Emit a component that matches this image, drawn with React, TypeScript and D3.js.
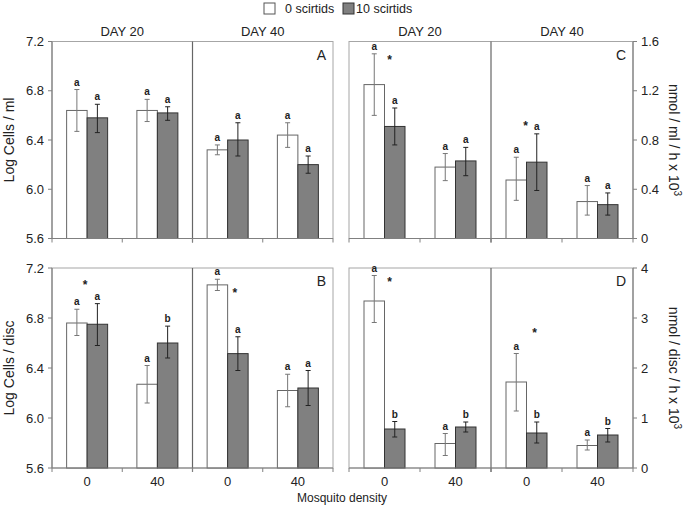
import { useRef, useEffect } from 'react';
import * as d3 from 'd3';

// categories
const days = ['DAY 20', 'DAY 40'];
const densities = ['0', '40'];
const seriesNames = ['0 scirtids', '10 scirtids'];
// order of groups in every array: D20-0, D20-40, D40-0, D40-40

// Panel A: Log Cells / ml
const aWhite = [6.64, 6.64, 6.32, 6.44];
const aWhiteLo = [6.47, 6.55, 6.28, 6.34];
const aWhiteHi = [6.81, 6.73, 6.36, 6.54];
const aGrey = [6.58, 6.62, 6.40, 6.20];
const aGreyLo = [6.46, 6.56, 6.27, 6.13];
const aGreyHi = [6.69, 6.67, 6.54, 6.27];
const aWhiteLetters = ['a', 'a', 'a', 'a'];
const aGreyLetters = ['a', 'a', 'a', 'a'];

// Panel B: Log Cells / disc
const bWhite = [6.76, 6.27, 7.065, 6.22];
const bWhiteLo = [6.66, 6.12, 7.02, 6.09];
const bWhiteHi = [6.87, 6.42, 7.11, 6.35];
const bGrey = [6.75, 6.60, 6.515, 6.24];
const bGreyLo = [6.58, 6.48, 6.38, 6.10];
const bGreyHi = [6.915, 6.735, 6.65, 6.38];
const bWhiteLetters = ['a', 'a', 'a', 'a'];
const bGreyLetters = ['a', 'b', 'a', 'a'];

// Panel C: nmol / ml / h x 10^3
const cWhite = [1.25, 0.58, 0.475, 0.30];
const cWhiteLo = [1.00, 0.47, 0.31, 0.19];
const cWhiteHi = [1.50, 0.69, 0.66, 0.43];
const cGrey = [0.91, 0.63, 0.62, 0.275];
const cGreyLo = [0.76, 0.51, 0.39, 0.19];
const cGreyHi = [1.06, 0.74, 0.85, 0.37];
const cWhiteLetters = ['a', 'a', 'a', 'a'];
const cGreyLetters = ['a', 'a', 'a', 'a'];

// Panel D: nmol / disc / h x 10^3
const dWhite = [3.34, 0.49, 1.72, 0.45];
const dWhiteLo = [2.91, 0.25, 1.14, 0.36];
const dWhiteHi = [3.85, 0.69, 2.29, 0.56];
const dGrey = [0.78, 0.82, 0.70, 0.66];
const dGreyLo = [0.62, 0.72, 0.50, 0.52];
const dGreyHi = [0.93, 0.92, 0.92, 0.79];
const dWhiteLetters = ['a', 'a', 'a', 'a'];
const dGreyLetters = ['b', 'b', 'b', 'b'];

// significance stars: group index, value, horizontal offset in bar widths
const bStars = [{ g: 0, v: 7.075, off: -0.1 }, { g: 2, v: 7.01, off: 0.35 }];
const cStars = [{ g: 0, v: 1.455, off: 0.25 }, { g: 2, v: 0.92, off: -0.05 }];
const dStars = [{ g: 0, v: 3.75, off: 0.25 }, { g: 2, v: 2.73, off: 0.4 }];

const logTicks = [5.6, 6.0, 6.4, 6.8, 7.2];
const cTicks = [0, 0.4, 0.8, 1.2, 1.6];
const dTicks = [0, 1, 2, 3, 4];

const FONT = '"Liberation Sans", Arial, sans-serif';

export default function App() {
  const svgRef = useRef<SVGSVGElement>(null);

  useEffect(() => {
    const svg = d3.select(svgRef.current);
    svg.selectAll('*').remove();
    svg.append('rect').attr('width', 685).attr('height', 506).attr('fill', '#fff');

    const groups = days.flatMap(d => densities.map(n => `${d}|${n}`));

    const panel = (opts: {
      x0: number; x1: number; y0: number; y1: number;
      domain: [number, number]; ticks: number[]; fmt: (v: number) => string;
      side: 'left' | 'right'; label: string; tag: string; showX: boolean;
      white: number[]; whiteLo: number[]; whiteHi: number[];
      grey: number[]; greyLo: number[]; greyHi: number[];
      wl: string[]; gl: string[];
      stars: { g: number; v: number; off: number }[];
    }) => {
      const { x0, x1, y0, y1 } = opts;
      const x = d3.scaleBand().domain(groups).range([x0, x1]);
      const y = d3.scaleLinear().domain(opts.domain).range([y1, y0]);
      const bw = 20.5;
      const inner = d3.scaleBand().domain(seriesNames).range([-bw, bw]);
      const g = svg.append('g');

      // frame
      g.append('rect').attr('x', x0).attr('y', y0).attr('width', x1 - x0).attr('height', y1 - y0)
        .attr('fill', 'none').attr('stroke', '#a6a6a6').attr('stroke-width', 1);
      // day divider
      const mid = x(groups[2])!;
      g.append('line').attr('x1', mid).attr('x2', mid).attr('y1', y0).attr('y2', y1 + 4)
        .attr('stroke', '#666').attr('stroke-width', 1.2);

      const seriesData = [
        { name: seriesNames[0], v: opts.white, lo: opts.whiteLo, hi: opts.whiteHi, let: opts.wl,
          fill: '#fff', stroke: '#666', err: '#777' },
        { name: seriesNames[1], v: opts.grey, lo: opts.greyLo, hi: opts.greyHi, let: opts.gl,
          fill: '#808080', stroke: '#333', err: '#222' },
      ];

      seriesData.forEach(s => {
        groups.forEach((gr, i) => {
          const cx = x(gr)! + x.bandwidth() / 2 + inner(s.name)!;
          g.append('rect').attr('x', cx).attr('y', y(s.v[i]))
            .attr('width', bw).attr('height', y(opts.domain[0]) - y(s.v[i]))
            .attr('fill', s.fill).attr('stroke', s.stroke).attr('stroke-width', 1);
          const ex = cx + bw / 2;
          g.append('line').attr('x1', ex).attr('x2', ex).attr('y1', y(s.lo[i])).attr('y2', y(s.hi[i]))
            .attr('stroke', s.err).attr('stroke-width', 1);
          [s.lo[i], s.hi[i]].forEach(v => {
            g.append('line').attr('x1', ex - 2.5).attr('x2', ex + 2.5).attr('y1', y(v)).attr('y2', y(v))
              .attr('stroke', s.err).attr('stroke-width', 1);
          });
          g.append('text').attr('x', ex).attr('y', y(s.hi[i]) - 4)
            .attr('text-anchor', 'middle').attr('font-size', 10).attr('font-family', FONT)
            .attr('font-weight', 'bold').attr('fill', '#222').text(s.let[i]);
        });
      });

      opts.stars.forEach(st => {
        const sx = x(groups[st.g])! + x.bandwidth() / 2 + st.off * bw;
        g.append('text').attr('x', sx).attr('y', y(st.v) + 5)
          .attr('text-anchor', 'middle').attr('font-size', 12).attr('font-family', FONT)
          .attr('font-weight', 'bold').attr('fill', '#222').text('*');
      });

      // axes
      const axisCol = '#808080';
      g.append('line').attr('x1', x0).attr('x2', x1).attr('y1', y1).attr('y2', y1)
        .attr('stroke', axisCol).attr('stroke-width', 1.2);
      const bounds = [...groups.map(gr => x(gr)!), x1];
      bounds.forEach(b => {
        g.append('line').attr('x1', b).attr('x2', b).attr('y1', y1).attr('y2', y1 + 4)
          .attr('stroke', axisCol);
      });
      const ax = opts.side === 'left' ? x0 : x1;
      g.append('line').attr('x1', ax).attr('x2', ax).attr('y1', y0).attr('y2', y1)
        .attr('stroke', axisCol).attr('stroke-width', 1.2);
      const dir = opts.side === 'left' ? -1 : 1;
      opts.ticks.forEach(t => {
        g.append('line').attr('x1', ax).attr('x2', ax + dir * 4).attr('y1', y(t)).attr('y2', y(t))
          .attr('stroke', axisCol);
        g.append('text').attr('x', ax + dir * 8).attr('y', y(t) + 4.5)
          .attr('text-anchor', opts.side === 'left' ? 'end' : 'start')
          .attr('font-size', 13).attr('font-family', FONT).attr('fill', '#222').text(opts.fmt(t));
      });

      if (opts.showX) {
        groups.forEach((gr, i) => {
          g.append('text').attr('x', x(gr)! + x.bandwidth() / 2).attr('y', y1 + 18)
            .attr('text-anchor', 'middle').attr('font-size', 13).attr('font-family', FONT)
            .attr('fill', '#222').text(densities[i % 2]);
        });
      }

      // panel tag
      g.append('text').attr('x', x1 - 7).attr('y', y0 + 18).attr('text-anchor', 'end')
        .attr('font-size', 14).attr('font-family', FONT).attr('fill', '#222').text(opts.tag);

      // y title
      const ty = (y0 + y1) / 2;
      if (opts.side === 'left') {
        g.append('text').attr('transform', `translate(${x0 - 38},${ty}) rotate(-90)`)
          .attr('text-anchor', 'middle').attr('font-size', 14).attr('font-family', FONT)
          .attr('fill', '#222').text(opts.label);
      } else {
        const t = g.append('text').attr('transform', `translate(${x1 + 36},${ty}) rotate(90)`)
          .attr('text-anchor', 'middle').attr('font-size', 14).attr('font-family', FONT)
          .attr('fill', '#222');
        t.append('tspan').text(opts.label);
        t.append('tspan').attr('dy', -5).attr('font-size', 10).text('3');
      }
      return x;
    };

    const fmt1 = (v: number) => v.toFixed(1);
    const fmtC = (v: number) => (v === 0 ? '0' : v.toFixed(1));
    const fmtD = (v: number) => String(v);

    const xA = panel({ x0: 52, x1: 333, y0: 41.5, y1: 238.5, domain: [5.6, 7.2], ticks: logTicks, fmt: fmt1,
      side: 'left', label: 'Log Cells / ml', tag: 'A', showX: false,
      white: aWhite, whiteLo: aWhiteLo, whiteHi: aWhiteHi, grey: aGrey, greyLo: aGreyLo, greyHi: aGreyHi,
      wl: aWhiteLetters, gl: aGreyLetters, stars: [] });
    panel({ x0: 52, x1: 333, y0: 268, y1: 468, domain: [5.6, 7.2], ticks: logTicks, fmt: fmt1,
      side: 'left', label: 'Log Cells / disc', tag: 'B', showX: true,
      white: bWhite, whiteLo: bWhiteLo, whiteHi: bWhiteHi, grey: bGrey, greyLo: bGreyLo, greyHi: bGreyHi,
      wl: bWhiteLetters, gl: bGreyLetters, stars: bStars });
    const xC = panel({ x0: 349, x1: 633, y0: 41.5, y1: 238.5, domain: [0, 1.6], ticks: cTicks, fmt: fmtC,
      side: 'right', label: 'nmol / ml / h x 10', tag: 'C', showX: false,
      white: cWhite, whiteLo: cWhiteLo, whiteHi: cWhiteHi, grey: cGrey, greyLo: cGreyLo, greyHi: cGreyHi,
      wl: cWhiteLetters, gl: cGreyLetters, stars: cStars });
    panel({ x0: 349, x1: 633, y0: 268, y1: 468, domain: [0, 4], ticks: dTicks, fmt: fmtD,
      side: 'right', label: 'nmol / disc / h x 10', tag: 'D', showX: true,
      white: dWhite, whiteLo: dWhiteLo, whiteHi: dWhiteHi, grey: dGrey, greyLo: dGreyLo, greyHi: dGreyHi,
      wl: dWhiteLetters, gl: dGreyLetters, stars: dStars });

    // day headers
    [xA, xC].forEach(xs => {
      days.forEach((d, i) => {
        const a = xs(groups[i * 2])!;
        const b = xs(groups[i * 2 + 1])! + xs.bandwidth();
        svg.append('text').attr('x', (a + b) / 2).attr('y', 36).attr('text-anchor', 'middle')
          .attr('font-size', 13).attr('font-family', FONT).attr('fill', '#222').text(d);
      });
    });

    // legend
    const lg = svg.append('g');
    const items = [
      { name: seriesNames[0], fill: '#fff', stroke: '#555', x: 264, gap: 21 },
      { name: seriesNames[1], fill: '#808080', stroke: '#333', x: 343, gap: 13 },
    ];
    items.forEach(it => {
      lg.append('rect').attr('x', it.x).attr('y', 3).attr('width', 11).attr('height', 11)
        .attr('fill', it.fill).attr('stroke', it.stroke);
      lg.append('text').attr('x', it.x + it.gap).attr('y', 13)
        .attr('font-size', 12.5).attr('font-family', FONT).attr('fill', '#222').text(it.name);
    });

    svg.append('text').attr('x', 342).attr('y', 502).attr('text-anchor', 'middle')
      .attr('font-size', 12).attr('font-family', FONT).attr('fill', '#222').text('Mosquito density');
  }, []);

  return (
    <svg ref={svgRef} width={685} height={506}
      style={{ position: 'absolute', left: 0, top: 0, display: 'block' }} />
  );
}
